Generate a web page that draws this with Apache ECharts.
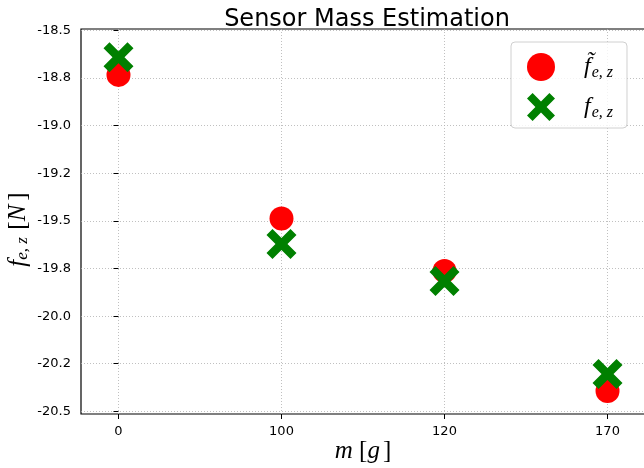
<!DOCTYPE html>
<html>
<head>
<meta charset="utf-8">
<script src="https://cdn.jsdelivr.net/npm/echarts@6/dist/echarts.min.js"></script>
<style>
  html, body { margin: 0; padding: 0; background: #fff; }
  #chart { width: 644px; height: 468px; }
</style>
</head>
<body>
<div id="chart"></div>
<script>
// 质量标签 (x 轴类别)
const massLabels = ['0', '100', '120', '170']
// 估计值 f~_{e,z}
const estimated = [-18.733, -19.487, -19.763, -20.393]
// 测量值 f_{e,z}
const measured = [-18.641, -19.621, -19.815, -20.304]
// y 轴刻度
const yTickValues = [-20.5, -20.25, -20.0, -19.75, -19.5, -19.25, -19.0, -18.75, -18.5]
const yTickLabels = ['-20.5', '-20.2', '-20.0', '-19.8', '-19.5', '-19.2', '-19.0', '-18.8', '-18.5']

const xIndex = massLabels.map((_, i) => i)
const crossPath = 'path://M0,2 L2,0 L5,3 L8,0 L10,2 L7,5 L10,8 L8,10 L5,7 L2,10 L0,8 L3,5 Z'
const mathFont = '"Liberation Serif", serif'
const sansFont = '"DejaVu Sans", sans-serif'

let myChart = echarts.init(document.getElementById('chart'))

const gridLine = {
  show: true,
  lineStyle: { color: '#b0b0b0', width: 0.8, type: [1, 2] }
}

let option = {
  animation: false,
  backgroundColor: '#fff',
  title: {
    text: 'Sensor Mass Estimation',
    left: 362,
    textAlign: 'center',
    top: 3,
    textStyle: { fontFamily: sansFont, fontSize: 24, fontWeight: 'normal', color: '#000' }
  },
  grid: {
    left: 81,
    right: -1,
    top: 29,
    bottom: 54,
    show: true,
    borderColor: '#000',
    borderWidth: 1.2,
    containLabel: false,
    outerBoundsMode: 'none'
  },
  legend: {
    orient: 'vertical',
    left: 511,
    top: 42,
    padding: [11, 14, 7, 16],
    itemGap: 12,
    itemWidth: 28,
    itemHeight: 28,
    backgroundColor: 'rgba(255,255,255,0.8)',
    borderColor: '#d0d0d0',
    borderWidth: 1,
    borderRadius: 4,
    data: ['est', 'meas'],
    formatter: function (name) {
      return name === 'est' ? '{f|f\u0303}{s|e, z}' : '{f|f}{s|e, z}'
    },
    textStyle: {
      padding: [0, 0, 0, 24],
      rich: {
        f: { fontFamily: mathFont, fontStyle: 'italic', fontSize: 24, color: '#000', lineHeight: 28 },
        s: { fontFamily: mathFont, fontStyle: 'italic', fontSize: 16, color: '#000', verticalAlign: 'bottom', padding: [0, 0, 0, 1], lineHeight: 22 }
      }
    }
  },
  xAxis: {
    type: 'value',
    min: -0.23,
    max: 3.23,
    name: '{i|m} {u|[}{i|g}{u|]}',
    nameLocation: 'middle',
    nameGap: 25,
    nameMoveOverlap: false,
    nameTextStyle: {
      rich: {
        i: { fontFamily: mathFont, fontStyle: 'italic', fontSize: 25, color: '#000' },
        u: { fontFamily: mathFont, fontSize: 25, color: '#000', padding: [0, 0, 0, 3] }
      }
    },
    axisLine: { show: false },
    axisTick: { show: true, customValues: xIndex, length: 5, lineStyle: { color: '#000', width: 1 } },
    axisLabel: {
      customValues: xIndex,
      margin: 11,
      fontFamily: sansFont,
      fontSize: 13,
      color: '#000',
      formatter: function (v) { return massLabels[Math.round(v)] }
    },
    splitLine: gridLine
  },
  yAxis: {
    type: 'value',
    min: -20.514,
    max: -18.492,
    name: '{i|f}{s|e, z} {u|[}{i|N}{u|]}',
    nameLocation: 'middle',
    nameRotate: 90,
    nameGap: 50,
    nameMoveOverlap: false,
    nameTextStyle: {
      padding: [0, 16, 0, 0],
      rich: {
        i: { fontFamily: mathFont, fontStyle: 'italic', fontSize: 25, color: '#000' },
        s: { fontFamily: mathFont, fontStyle: 'italic', fontSize: 17, color: '#000', verticalAlign: 'bottom' },
        u: { fontFamily: mathFont, fontSize: 25, color: '#000', padding: [0, 0, 0, 4] }
      }
    },
    axisLine: { show: false },
    axisTick: { show: true, customValues: yTickValues, length: 5, lineStyle: { color: '#000', width: 1 } },
    axisLabel: {
      customValues: yTickValues,
      margin: 10,
      fontFamily: sansFont,
      fontSize: 13,
      color: '#000',
      formatter: function (v) {
        let idx = yTickValues.findIndex((t) => Math.abs(t - v) < 1e-6)
        return idx >= 0 ? yTickLabels[idx] : ''
      }
    },
    splitLine: gridLine
  },
  series: [
    {
      name: 'est',
      type: 'scatter',
      symbol: 'circle',
      symbolSize: 24,
      itemStyle: { color: '#ff0000', opacity: 1 },
      data: xIndex.map((i) => [i, estimated[i]]),
      z: 2
    },
    {
      name: 'meas',
      type: 'scatter',
      symbol: crossPath,
      symbolSize: 30,
      symbolKeepAspect: true,
      itemStyle: { color: '#008000', opacity: 1 },
      data: xIndex.map((i) => [i, measured[i]]),
      z: 3
    }
  ]
}
myChart.setOption(option)
</script>
</body>
</html>
